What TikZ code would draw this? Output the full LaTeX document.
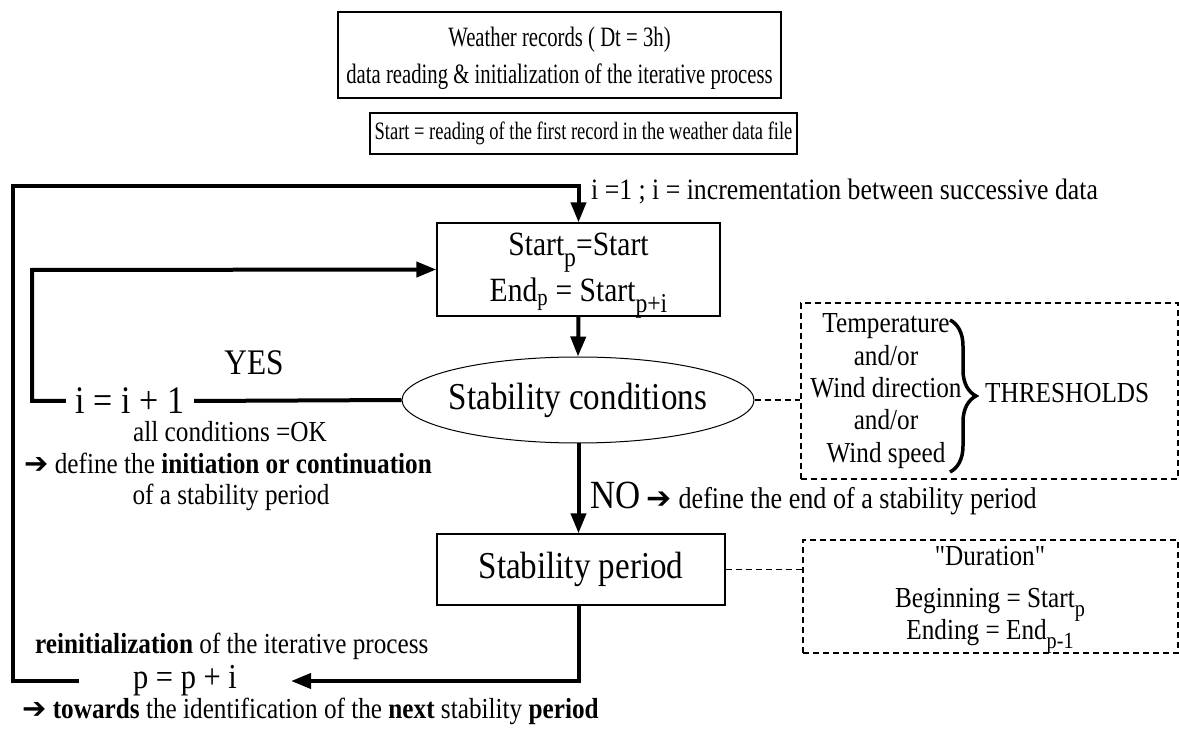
\documentclass[tikz,border=0pt]{standalone}
\usepackage{fontspec}
\setmainfont{Liberation Serif}[FakeStretch=0.87]
\newfontfamily\narrowfont{Liberation Serif}[FakeStretch=0.74, Ligatures=TeX]
\newfontfamily\qfont{Liberation Serif}[FakeStretch=0.87]
\newfontfamily\symfont{DejaVu Sans}
\usetikzlibrary{shapes.geometric,arrows.meta,decorations.pathreplacing}

\newcommand{\fs}[1]{\fontsize{#1}{#1}\selectfont}
\newcommand{\harrow}{{\symfont\char"2794}}
\newcommand{\lowsub}[1]{\raisebox{-0.32em}{\scalebox{0.8}{#1}}}
\newcommand{\sq}{{\qfont"}}

\tikzset{
  box/.style={draw, line width=1.3pt, align=center, inner sep=0pt},
  note/.style={draw, line width=1.2pt, dash pattern=on 6pt off 4pt, align=center, inner sep=0pt},
  flow/.style={line width=4pt, -{Triangle[length=20pt,width=15pt]}},
  plain/.style={line width=4pt},
  link/.style={line width=1.2pt, dash pattern=on 6pt off 4pt},
  lbl/.style={inner sep=0pt, align=center},
}

\begin{document}
\begin{tikzpicture}[x=1pt,y=-1pt]
\useasboundingbox (0,0) rectangle (1179,735);

% header boxes
\node[box, minimum width=443pt, minimum height=86pt] (title) at (559.5,55) {};
\node[lbl, anchor=base, font=\narrowfont\fs{28}] (title1) at (559.5,47) {Weather records ( Dt = 3h)};
\node[lbl, anchor=base, font=\narrowfont\fs{28}] (title2) at (559.5,84) {data reading \& initialization of the iterative process};
\node[box, minimum width=427pt, minimum height=41pt, font=\narrowfont\fs{25}] (first) at (583.5,133.5)
  {Start = reading of the first record in the weather data file};

% iteration box
\node[box, minimum width=283pt, minimum height=93pt] (init) at (578.5,269.5) {};
\node[lbl, anchor=base, font=\fs{34}] (init1) at (578.5,256) {Start\lowsub{p}=Start};
\node[lbl, anchor=base, font=\fs{34}] (init2) at (578.5,302) {End\textsubscript{p} = Start\lowsub{p+i}};

% test and result
\node[draw, ellipse, line width=1pt, minimum width=352pt, minimum height=86pt, inner sep=0pt] (cond) at (578,400) {};
\node[lbl, font=\fs{38}] (condtxt) at (cond.center) {Stability conditions};
\node[box, minimum width=288pt, minimum height=71pt, font=\fs{38}] (period) at (581,569.5)
  {Stability period};

% thresholds note
\node[note, minimum width=377pt, minimum height=176pt] (thr) at (989.5,391) {};
\node[lbl, font=\fontsize{29}{32.3}\selectfont] (thrlist) at (886,391)
  {Temperature\\and/or\\Wind direction\\and/or\\Wind speed};
\node[lbl, anchor=west, font=\fs{29}] (thrname) at (985,393) {THRESHOLDS};
\draw[line width=3.5pt, decorate, decoration={brace, amplitude=26pt}] (950,320) -- (950,472);

% duration note
\node[note, minimum width=375pt, minimum height=113pt] (dur) at (990.5,596.5) {};
\node[lbl, anchor=base, font=\fs{29}] (dur1) at (990,565) {\sq Duration\sq};
\node[lbl, anchor=base, font=\fs{29}] (dur2) at (990,607) {Beginning = Start\lowsub{p}};
\node[lbl, anchor=base, font=\fs{29}] (dur3) at (990,639) {Ending = End\lowsub{p-1}};

% loop counters
\node[lbl, inner xsep=10pt, font=\fs{39}] (iinc) at (130,401) {i = i + 1};
\node[lbl, inner xsep=54pt, font=\fs{35}] (pinc) at (185,681) {p = p + i};
\coordinate (tl) at (13,186);
\coordinate (il) at (32,270);

% labels
\node[lbl, anchor=west, font=\fs{29.6}] (inclbl) at (591,192) {i =1 ; i = incrementation between successive data};
\node[lbl, font=\fs{36}] (yes) at (254,363) {YES};
\node[lbl, font=\fs{29}] (okl) at (230,432) {all conditions =OK};
\node[lbl, anchor=west, font=\fs{29}] (defl) at (24,463) {\harrow{} define the \textbf{initiation or continuation}};
\node[lbl, font=\fs{29}] (ofl) at (231,497) {of a stability period};
\node[lbl, anchor=west, font=\fs{30}] (nol) at (590,498) {{\fs{40}NO} \harrow{} define the end of a stability period};
\node[lbl, anchor=west, font=\fs{29}] (reinit) at (35,646) {\textbf{reinitialization} of the iterative process};
\node[lbl, anchor=west, font=\fs{29}] (tow) at (22,711) {\harrow{} \textbf{towards} the identification of the \textbf{next} stability \textbf{period}};

% connectors
\draw[flow] (pinc.west) -- (pinc.west -| tl) -- (tl) -- (tl -| init.north) -- (init.north);
\draw[flow] (init.south) -- (cond.north);
\draw[plain] (cond.west) -- (iinc.east);
\draw[flow] (iinc.west) -- (iinc.west -| il) -- (il) -- (init.west);
\draw[flow] (cond.south -| init.south) -- (period.north -| init.south);
\draw[flow] (period.south -| init.south) -- (pinc.east -| init.south) -- (pinc.east);
\draw[link] (cond.east) -- (cond.east -| thr.west);
\draw[link] (period.east) -- (period.east -| dur.west);
\end{tikzpicture}
\end{document}
